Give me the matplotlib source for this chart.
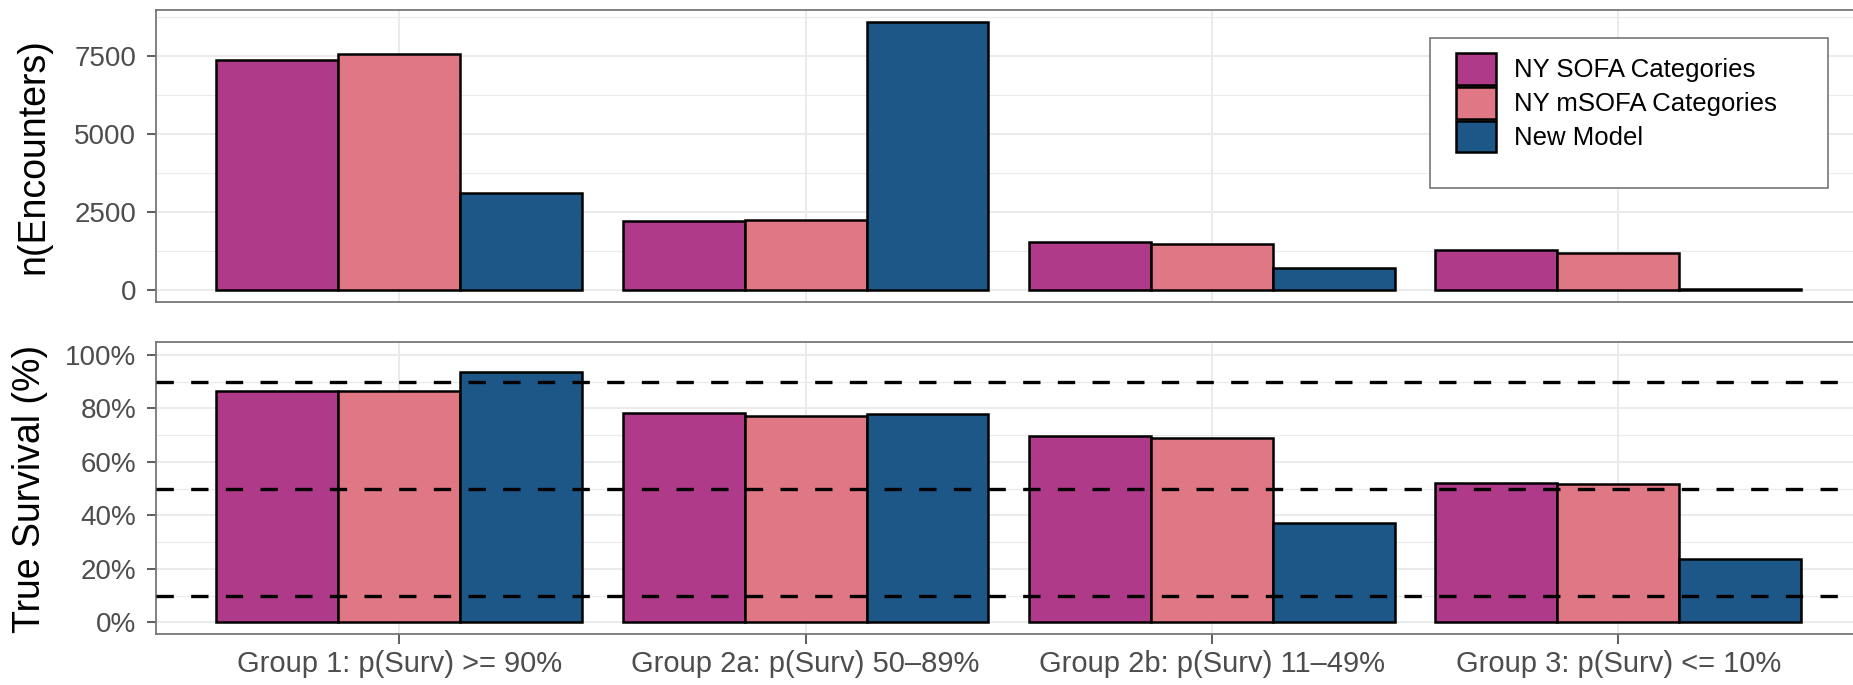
import numpy as np
import matplotlib
matplotlib.use('Agg')
import matplotlib.pyplot as plt
from matplotlib.ticker import MultipleLocator, FuncFormatter
from matplotlib.patches import Rectangle

plt.rcParams['font.family'] = ['Liberation Sans', 'DejaVu Sans']

# 分组与模型
groups = ['Group 1: p(Surv) >= 90%', 'Group 2a: p(Surv) 50–89%',
          'Group 2b: p(Surv) 11–49%', 'Group 3: p(Surv) <= 10%']
models = ['NY SOFA Categories', 'NY mSOFA Categories', 'New Model']
colors = ['#AE3A89', '#E07784', '#1D5788']

# 每组人数
encounters_sofa = [7380, 2220, 1540, 1280]
encounters_msofa = [7570, 2240, 1460, 1170]
encounters_new = [3110, 8580, 710, 25]

# 实际生存率 (%)
survival_sofa = [86.6, 78.2, 69.7, 52.0]
survival_msofa = [86.5, 77.3, 69.1, 51.6]
survival_new = [93.6, 78.1, 37.0, 23.8]

# 分组阈值
survival_cutoffs = [10, 50, 90]

W, H = 1853, 685
fig = plt.figure(figsize=(W / 100, H / 100), dpi=100)

# 面板位置(像素)
left_px, unit_px = 155.5, 406.3
ax_w = 4.2 * unit_px / W
ax_top = fig.add_axes([left_px / W, 1 - 302 / H, ax_w, 292 / H])
ax_bot = fig.add_axes([left_px / W, 1 - 634.3 / H, ax_w, 292 / H])

x = np.arange(len(groups))
bw = 0.3
grid_c = '#EBEBEB'


def style_panel(ax):
    ax.set_axisbelow(True)
    ax.set_xlim(-0.6, len(groups) - 0.4)
    ax.set_xticks(x)
    ax.grid(which='major', color=grid_c, lw=1.4)
    ax.grid(which='minor', axis='y', color=grid_c, lw=0.8)
    for sp in ax.spines.values():
        sp.set_color('#777777')
        sp.set_linewidth(1.3)
    ax.tick_params(axis='y', which='major', length=6.5, width=1.1, color='#333333',
                   labelsize=20, labelcolor='#4D4D4D', pad=7.5)
    ax.tick_params(which='minor', length=0)


def draw_bars(ax, series):
    bars = []
    for i, (vals, c, name) in enumerate(zip(series, colors, models)):
        b = ax.bar(x + (i - 1) * bw, vals, width=bw, color=c, edgecolor='black',
                   linewidth=1.8, label=name, zorder=2)
        bars.append(b)
    return bars


# 上图：人数
bars = draw_bars(ax_top, [encounters_sofa, encounters_msofa, encounters_new])
style_panel(ax_top)
ymax = max(encounters_sofa + encounters_msofa + encounters_new)
ax_top.set_ylim(-0.045 * ymax, 1.045 * ymax)
ax_top.yaxis.set_major_locator(MultipleLocator(2500))
ax_top.yaxis.set_minor_locator(MultipleLocator(1250))
ax_top.tick_params(axis='x', bottom=False, labelbottom=False)

# 图例
ax_top.add_patch(Rectangle((0.747, 0.3904), 0.2331, 0.5137, transform=ax_top.transAxes,
                           facecolor='white', edgecolor='#777777', lw=1.2, zorder=4))
ax_top.legend(handles=bars, loc='upper left', bbox_to_anchor=(0.7622, 0.8517),
              frameon=False, borderpad=0, borderaxespad=0, fontsize=18.5,
              handlelength=1.556, handleheight=1.5, labelspacing=0.1,
              handletextpad=0.7).set_zorder(5)

# 下图：生存率
draw_bars(ax_bot, [survival_sofa, survival_msofa, survival_new])
style_panel(ax_bot)
for c in survival_cutoffs:
    ax_bot.axhline(c, color='black', lw=2.4, linestyle=(0, (5.2, 5.2)), zorder=3)
ax_bot.set_ylim(-4.5, 104.75)
ax_bot.yaxis.set_major_locator(MultipleLocator(20))
ax_bot.yaxis.set_minor_locator(MultipleLocator(10))
ax_bot.yaxis.set_major_formatter(FuncFormatter(lambda v, p: f'{v:.0f}%'))
ax_bot.set_xticklabels(groups)
ax_bot.tick_params(axis='x', length=7, width=1.1, color='#333333',
                   labelsize=21, labelcolor='#4D4D4D', pad=4)

# 纵轴标题
fig.text(33 / W, 1 - 156.5 / H, 'n(Encounters)', rotation=90, ha='center', va='center',
         fontsize=27)
fig.text(30 / W, 1 - 489 / H, 'True Survival (%)', rotation=90, ha='center', va='center',
         fontsize=27)

fig.savefig('out.png', dpi=100)
